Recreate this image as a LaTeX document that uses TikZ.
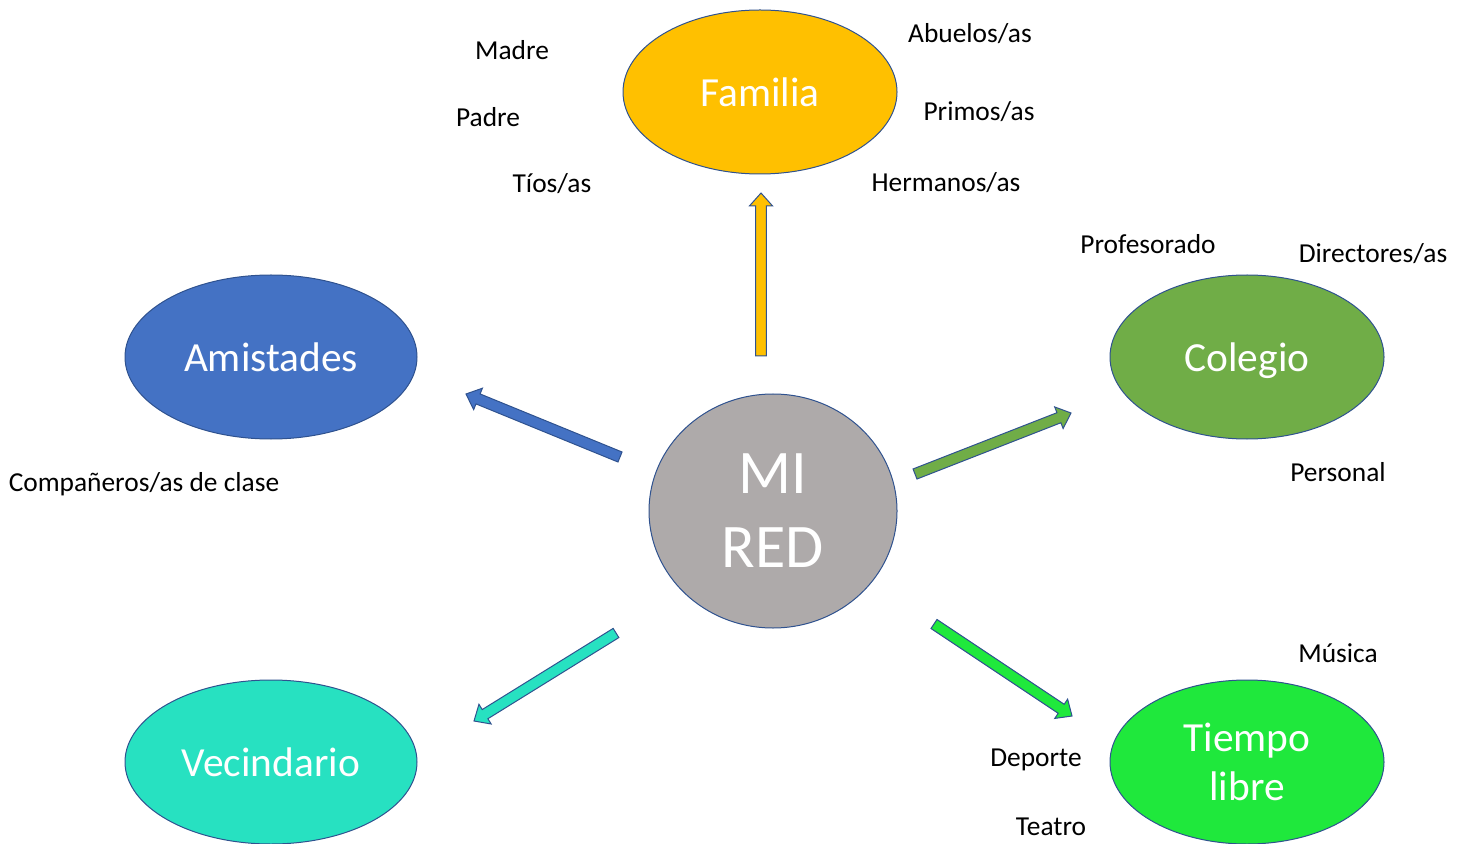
\documentclass[tikz,border=0pt]{standalone}
\usepackage{fontspec}
\setmainfont{Carlito}
\usepackage{tikz}
\usetikzlibrary{calc,shapes.geometric}
\definecolor{redLine}{HTML}{2F528F}
\definecolor{redGrey}{HTML}{AEAAAA}
\definecolor{famFill}{HTML}{FFC000}
\definecolor{amiFill}{HTML}{4472C4}
\definecolor{colFill}{HTML}{70AD47}
\definecolor{vecFill}{HTML}{27E1C1}
\definecolor{tieFill}{HTML}{1FE83C}
\newcommand{\blockarrow}[3]{% from, to, fill
  \draw[blockarr, fill=#3]
    ($(#1)!2.7pt!90:(#2)$) -- ($($(#2)!6.5pt!(#1)$)!2.7pt!-90:(#1)$)
    -- ($($(#2)!6.5pt!(#1)$)!5.8pt!-90:(#1)$) -- (#2)
    -- ($($(#2)!6.5pt!(#1)$)!5.8pt!90:(#1)$)
    -- ($($(#2)!6.5pt!(#1)$)!2.7pt!90:(#1)$) -- ($(#1)!2.7pt!-90:(#2)$) -- cycle;}
\tikzset{
  netbox/.style={ellipse, draw=redLine, line width=0.5pt, text=white, align=center,
                 inner sep=0pt, font=\fontsize{20.7}{24.5}\selectfont},
  blockarr/.style={draw=redLine, line width=0.5pt, line join=miter},
  netnote/.style={font=\fontsize{13.7}{16}\selectfont, text=black, text depth=0pt},
}
\begin{document}
\begin{tikzpicture}[x=0.5pt, y=-0.5pt]
    \useasboundingbox (0,0) rectangle (1466,844);
    % the six ellipses
    \node[netbox, fill=redGrey, minimum width=124pt, minimum height=117pt,
          font=\fontsize{31}{37}\selectfont] (red) at (773,511) {MI\\RED};
    \node[netbox, fill=famFill, minimum width=137pt, minimum height=82pt] (fam) at (760,92) {Familia};
    \node[netbox, fill=amiFill, minimum width=146pt, minimum height=82pt] (amis) at (271,357) {Amistades};
    \node[netbox, fill=colFill, minimum width=137pt, minimum height=82pt, text depth=0pt] (cole) at (1247,357) {Colegio};
    \node[netbox, fill=vecFill, minimum width=146pt, minimum height=82pt] (veci) at (271,762) {Vecindario};
    \node[netbox, fill=tieFill, minimum width=137pt, minimum height=82pt] (tiempo) at (1247,762) {Tiempo\\libre};
    % arrow ends
    \coordinate (famA) at (761,356);   \coordinate (famB) at (761,193);
    \coordinate (amiA) at (620,457);   \coordinate (amiB) at (466,394);
    \coordinate (colA) at (915,474);   \coordinate (colB) at (1071,413);
    \coordinate (vecA) at (616,633);   \coordinate (vecB) at (474,721);
    \coordinate (tieA) at (934,624);   \coordinate (tieB) at (1072,716);
    \blockarrow{famA}{famB}{famFill}
    \blockarrow{amiA}{amiB}{amiFill}
    \blockarrow{colA}{colB}{colFill}
    \blockarrow{vecA}{vecB}{vecFill}
    \blockarrow{tieA}{tieB}{tieFill}
    % members
    \node[netnote] (madre) at (512,50) {Madre};
    \node[netnote] (padre) at (488,117) {Padre};
    \node[netnote] (tios) at (552,183) {Tíos/as};
    \node[netnote] (abuelos) at (970,33) {Abuelos/as};
    \node[netnote] (primos) at (979,111) {Primos/as};
    \node[netnote] (hermanos) at (946,182) {Hermanos/as};
    \node[netnote] (profes) at (1148,244) {Profesorado};
    \node[netnote] (directores) at (1373,253) {Directores/as};
    \node[netnote] (personal) at (1338,472) {Personal};
    \node[netnote] (companeros) at (144,482) {Compañeros/as de clase};
    \node[netnote] (musica) at (1338,653) {Música};
    \node[netnote] (deporte) at (1036,758) {Deporte};
    \node[netnote] (teatro) at (1051,827) {Teatro};
  \end{tikzpicture}
\end{document}
